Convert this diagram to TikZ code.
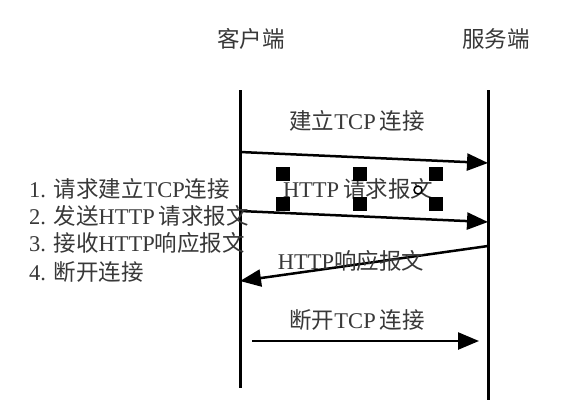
\documentclass[tikz,border=0pt]{standalone}
\usepackage{fontspec}
\setmainfont{Liberation Serif}
\newfontfamily\cjk{Noto Sans CJK SC}
\usetikzlibrary{arrows.meta}
\newcommand{\zh}[1]{{\cjk #1}}
\tikzset{
  life/.style={line width=3pt},
  msg/.style={line width=2.5pt,-{Triangle[length=21pt,width=17pt]}},
  lbl/.style={text=black!78,font=\fontsize{22.5}{26}\selectfont,inner sep=0pt},
  handle/.style={fill=black,minimum size=13.5pt,inner sep=0pt},
}
\begin{document}
\begin{tikzpicture}[x=1pt,y=-1pt]
\useasboundingbox[fill=white] (0,0) rectangle (580,412);
% headers
\node[lbl] (hc) at (251,39) {\zh{客户端}};
\node[lbl] (hs) at (496,39) {\zh{服务端}};
% lifelines
\coordinate (ct) at (240,90);
\coordinate (cb) at (240,388);
\coordinate (st) at (488,90);
\coordinate (sb) at (488,400);
\draw[life] (ct) -- (cb);
\draw[life] (st) -- (sb);
% messages
\coordinate (a1) at (240,152);
\coordinate (b1) at (488,163);
\draw[msg] (a1) -- (b1);
\node[lbl] (l1) at (357,121) {\zh{建立}TCP\,\zh{连接}};
\coordinate (a2) at (240,211);
\coordinate (b2) at (488,222);
\draw[msg] (a2) -- (b2);
\node[lbl] (l2) at (358,189) {HTTP\,\zh{请求报文}};
\coordinate (a3) at (488,246);
\coordinate (b3) at (240,281);
\draw[msg] (a3) -- (b3);
\node[lbl] (l3) at (351,261) {HTTP\zh{响应报文}};
\coordinate (a4) at (252,341);
\coordinate (b4) at (479,341);
\draw[msg] (a4) -- (b4);
\node[lbl] (l4) at (357,320) {\zh{断开}TCP\,\zh{连接}};
% selection handles
\node[handle] (h1) at (283,174) {};
\node[handle] (h2) at (360,174) {};
\node[handle] (h3) at (436,174) {};
\node[handle] (h4) at (283,204) {};
\node[handle] (h5) at (360,204) {};
\node[handle] (h6) at (436,204) {};
\node[draw=black,line width=1.5pt,fill=white,circle,minimum size=8pt,inner sep=0pt] (hr) at (418,190) {};
% list
\node[lbl,anchor=west] (i1) at (29,189) {1. \zh{请求建立}TCP\zh{连接}};
\node[lbl,anchor=west] (i2) at (29,216) {2. \zh{发送}HTTP\,\zh{请求报文}};
\node[lbl,anchor=west] (i3) at (29,243) {3. \zh{接收}HTTP\zh{响应报文}};
\node[lbl,anchor=west] (i4) at (29,272) {4. \zh{断开连接}};
\end{tikzpicture}
\end{document}
